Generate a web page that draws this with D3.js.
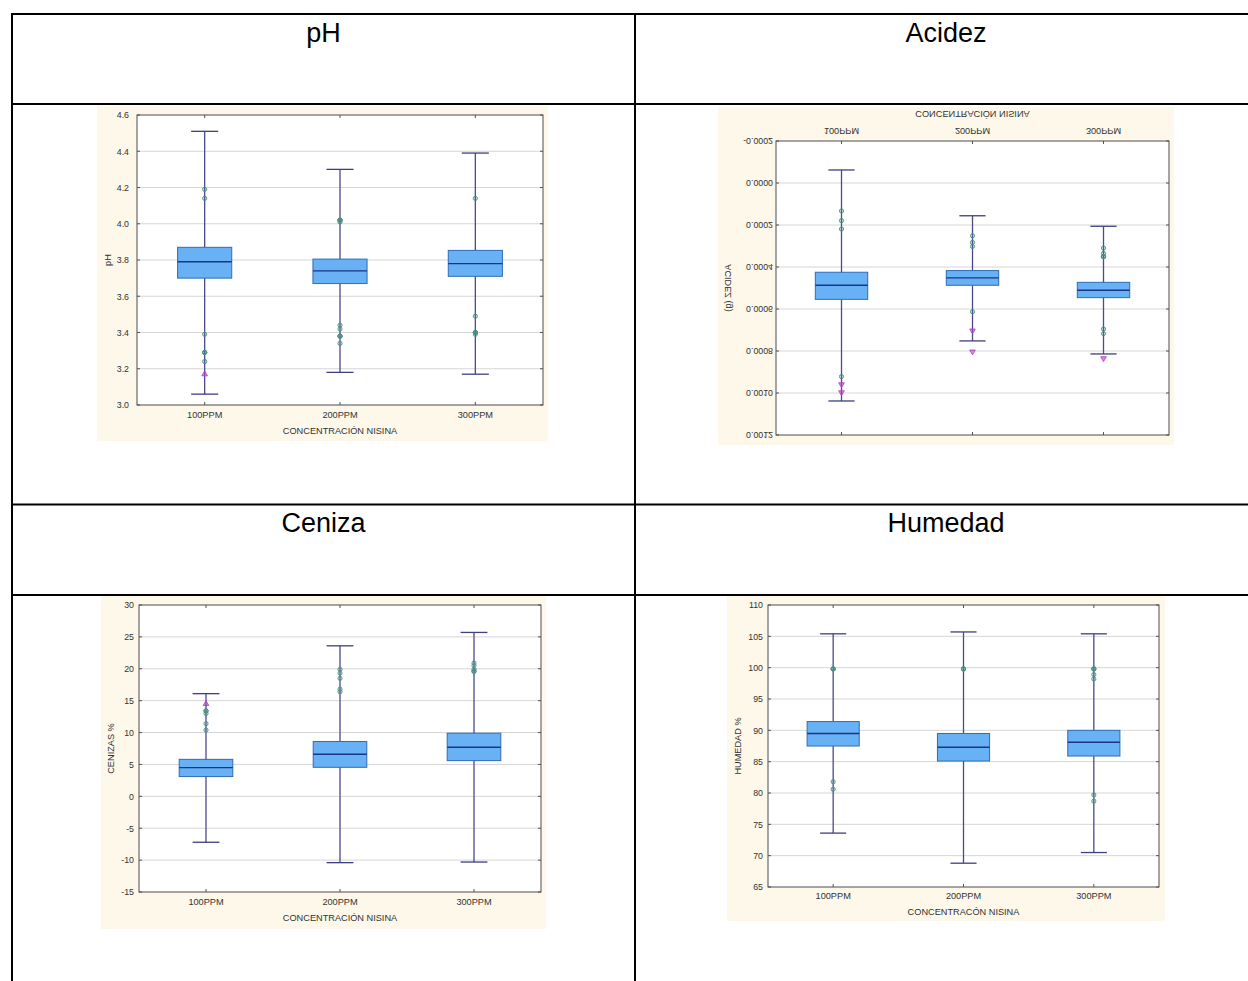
<!DOCTYPE html>
<html><head><meta charset="utf-8">
<script src="https://cdn.jsdelivr.net/npm/d3@7"></script>
<style>body{margin:0;background:#fff}svg{display:block}text{font-family:"Liberation Sans",Arial,sans-serif}</style>
</head><body><svg id="c" width="1248" height="981"></svg>
<script>
// ---------- data ----------
const categories = ["100PPM", "200PPM", "300PPM"];
const panelTitles = ["pH", "Acidez", "Ceniza", "Humedad"];

// pH
const phTicks = [3.0, 3.2, 3.4, 3.6, 3.8, 4.0, 4.2, 4.4, 4.6];
const phLow = [3.06, 3.18, 3.17];
const phQ1 = [3.70, 3.67, 3.71];
const phMedian = [3.79, 3.74, 3.78];
const phQ3 = [3.87, 3.805, 3.853];
const phHigh = [4.51, 4.30, 4.39];
const phOutliers = [[4.19, 4.14, 3.39, 3.29, 3.29, 3.29, 3.24],
                    [4.02, 4.02, 4.02, 4.01, 3.44, 3.42, 3.38, 3.38, 3.38, 3.34],
                    [4.14, 3.49, 3.40, 3.40, 3.40, 3.39]];
const phExtremes = [[3.17], [], []];

// Acidez (chart appears vertically mirrored in the reference)
const acTicks = [-0.0002, 0.0000, 0.0002, 0.0004, 0.0006, 0.0008, 0.0010, 0.0012];
const acLow = [-0.000062, 0.000156, 0.000206];
const acQ1 = [0.000425, 0.000417, 0.000473];
const acMedian = [0.000487, 0.000452, 0.000511];
const acQ3 = [0.000554, 0.000487, 0.000546];
const acHigh = [0.001038, 0.000752, 0.000814];
const acOutliers = [[0.000133, 0.000179, 0.000219, 0.000922],
                    [0.000251, 0.000283, 0.000302, 0.000613],
                    [0.000310, 0.000335, 0.000351, 0.000351, 0.000351, 0.000695, 0.000717]];
const acExtremes = [[0.000959, 0.000997], [0.000703, 0.000803], [0.000835]];

// Ceniza
const ceTicks = [-15, -10, -5, 0, 5, 10, 15, 20, 25, 30];
const ceLow = [-7.2, -10.4, -10.3];
const ceQ1 = [3.1, 4.55, 5.6];
const ceMedian = [4.5, 6.6, 7.7];
const ceQ3 = [5.8, 8.6, 9.9];
const ceHigh = [16.1, 23.6, 25.7];
const ceOutliers = [[13.4, 13.4, 13.0, 11.4, 10.4],
                    [19.9, 19.3, 18.5, 16.8, 16.4],
                    [20.9, 20.5, 19.9, 19.6, 19.6]];
const ceExtremes = [[14.5], [], []];

// Humedad
const huTicks = [65, 70, 75, 80, 85, 90, 95, 100, 105, 110];
const huLow = [73.6, 68.8, 70.5];
const huQ1 = [87.5, 85.1, 85.9];
const huMedian = [89.5, 87.3, 88.1];
const huQ3 = [91.4, 89.5, 90.0];
const huHigh = [105.4, 105.7, 105.4];
const huOutliers = [[99.8, 99.8, 99.8, 81.8, 80.6],
                    [99.8, 99.8, 99.8],
                    [99.8, 99.8, 99.8, 98.9, 98.2, 79.7, 78.7]];
const huExtremes = [[], [], []];

// ---------- drawing ----------
const svg = d3.select("#c");
const hyphen = f => (v => f(v).replace("\u2212", "-"));

// table grid
const tbl = svg.append("g").attr("stroke", "#000").attr("stroke-width", 2);
[14, 104, 504.5, 595].forEach(y => tbl.append("line").attr("x1", 11).attr("x2", 1260).attr("y1", y).attr("y2", y));
[12, 635].forEach(x => tbl.append("line").attr("x1", x).attr("x2", x).attr("y1", 13).attr("y2", 990));

const titlePos = [[323.5, 42], [946, 42], [323.5, 532], [946, 532]];
panelTitles.forEach((t, i) => svg.append("text").attr("x", titlePos[i][0]).attr("y", titlePos[i][1])
  .attr("text-anchor", "middle").attr("font-size", 27).attr("fill", "#000").text(t));

function drawBox(o) {
  const g = svg.append("g");
  if (o.flip) g.attr("transform", `translate(0,${o.bg[1] + o.bg[3]}) scale(1,-1)`);
  g.append("rect").attr("x", o.bg[0]).attr("y", o.bg[1]).attr("width", o.bg[2] - o.bg[0]).attr("height", o.bg[3] - o.bg[1]).attr("fill", "#fdf8ea");
  const [l, t, r, b] = o.plot;
  g.append("rect").attr("x", l).attr("y", t).attr("width", r - l).attr("height", b - t).attr("fill", "#fff");
  const x = d3.scaleBand().domain(categories).range([l, r]).padding(0);
  const y = d3.scaleLinear().domain(o.domain).range([b, t]);
  // grid
  g.append("g").selectAll("line").data(o.ticks.slice(1, -1)).join("line")
    .attr("x1", l).attr("x2", r).attr("y1", d => y(d)).attr("y2", d => y(d))
    .attr("stroke", "#d6d6d6").attr("stroke-width", 1);
  // axes
  const ya = g.append("g").attr("transform", `translate(${l},0)`)
    .call(d3.axisLeft(y).tickValues(o.ticks).tickFormat(hyphen(o.fmt)).tickSize(0).tickPadding(o.pad || 5));
  ya.select(".domain").remove();
  ya.selectAll("text").attr("font-size", 8.8).attr("fill", "#333").attr("font-family", "Liberation Sans, Arial, sans-serif");
  const xa = g.append("g").attr("transform", `translate(0,${b})`)
    .call(d3.axisBottom(x).tickSize(0).tickPadding(o.xPad));
  xa.select(".domain").remove();
  xa.selectAll("text").attr("font-size", 9.2).attr("fill", "#333").attr("font-family", "Liberation Sans, Arial, sans-serif");
  // small inner ticks
  const tk = g.append("g").attr("stroke", "#555").attr("stroke-width", 1);
  o.ticks.forEach(v => {
    tk.append("line").attr("x1", l).attr("x2", l + 3).attr("y1", y(v)).attr("y2", y(v));
    tk.append("line").attr("x1", r - 3).attr("x2", r).attr("y1", y(v)).attr("y2", y(v));
  });
  categories.forEach(c => {
    const cx = x(c) + x.bandwidth() / 2;
    tk.append("line").attr("x1", cx).attr("x2", cx).attr("y1", b).attr("y2", b - 3);
    tk.append("line").attr("x1", cx).attr("x2", cx).attr("y1", t).attr("y2", t + 3);
  });
  g.append("rect").attr("x", l).attr("y", t).attr("width", r - l).attr("height", b - t)
    .attr("fill", "none").attr("stroke", "#4d4d4d").attr("stroke-width", 1);
  // titles
  g.append("text").attr("x", (l + r) / 2).attr("y", o.xTitleY).attr("dy", "0.35em").attr("text-anchor", "middle")
    .attr("font-size", 9.2).attr("fill", "#333").text(o.xTitle);
  g.append("text").attr("transform", `translate(${o.yTitleX},${(t + b) / 2}) rotate(-90)`).attr("dy", "0.35em")
    .attr("text-anchor", "middle").attr("font-size", 9.2).attr("fill", "#333").text(o.yTitle);
  // boxes
  const bw = x.bandwidth() * 0.4, cw = x.bandwidth() * 0.2;
  categories.forEach((c, i) => {
    const cx = x(c) + x.bandwidth() / 2;
    const bg = g.append("g");
    bg.append("line").attr("x1", cx).attr("x2", cx).attr("y1", y(o.low[i])).attr("y2", y(o.high[i]))
      .attr("stroke", "#4a4a8c").attr("stroke-width", 1.3);
    [o.low[i], o.high[i]].forEach(v => bg.append("line").attr("x1", cx - cw / 2).attr("x2", cx + cw / 2)
      .attr("y1", y(v)).attr("y2", y(v)).attr("stroke", "#3e3e80").attr("stroke-width", 1.3));
    bg.append("rect").attr("x", cx - bw / 2).attr("y", y(o.q3[i])).attr("width", bw).attr("height", y(o.q1[i]) - y(o.q3[i]))
      .attr("fill", "#68b1f5").attr("stroke", "#2f6cb6").attr("stroke-width", 1);
    bg.append("line").attr("x1", cx - bw / 2).attr("x2", cx + bw / 2).attr("y1", y(o.med[i])).attr("y2", y(o.med[i]))
      .attr("stroke", "#1b3585").attr("stroke-width", 1.4);
    o.outliers[i].forEach(v => bg.append("circle").attr("cx", cx).attr("cy", y(v)).attr("r", 2.1)
      .attr("fill", "#3f9276").attr("fill-opacity", 0.22).attr("stroke", "#4b8f7f").attr("stroke-width", 0.9));
    o.extremes[i].forEach(v => bg.append("path").attr("transform", `translate(${cx},${y(v)})`)
      .attr("d", d3.symbol(d3.symbolTriangle, 14)()).attr("fill", "#c13cc9").attr("fill-opacity", 0.6)
      .attr("stroke", "#b43cc0").attr("stroke-width", 0.8));
  });
}

drawBox({bg: [97, 106, 548, 441], plot: [137, 115, 543, 405], domain: [3.0, 4.6], ticks: phTicks, fmt: d3.format(".1f"),
  pad: 8, xPad: 6, xTitleY: 431, yTitleX: 108, xTitle: "CONCENTRACIÓN NISINA", yTitle: "pH",
  low: phLow, q1: phQ1, med: phMedian, q3: phQ3, high: phHigh, outliers: phOutliers, extremes: phExtremes});

drawBox({bg: [718, 107, 1174, 445], plot: [776, 117, 1169, 411], domain: [-0.0002, 0.0012], ticks: acTicks, fmt: d3.format(".4f"),
  pad: 3, xPad: 6, xTitleY: 438, yTitleX: 728, xTitle: "CONCENTRACIÓN NISINA", yTitle: "ACIDEZ (g)", flip: true,
  low: acLow, q1: acQ1, med: acMedian, q3: acQ3, high: acHigh, outliers: acOutliers, extremes: acExtremes});

drawBox({bg: [101, 596, 546, 929], plot: [139, 605, 541, 892], domain: [-15, 30], ticks: ceTicks, fmt: d3.format("d"),
  pad: 5, xPad: 6, xTitleY: 918, yTitleX: 111, xTitle: "CONCENTRACIÓN NISINA", yTitle: "CENIZAS %",
  low: ceLow, q1: ceQ1, med: ceMedian, q3: ceQ3, high: ceHigh, outliers: ceOutliers, extremes: ceExtremes});

drawBox({bg: [727, 596, 1165, 921], plot: [768, 605, 1159, 887], domain: [65, 110], ticks: huTicks, fmt: d3.format("d"),
  pad: 5, xPad: 5, xTitleY: 912, yTitleX: 738, xTitle: "CONCENTRACÓN NISINA", yTitle: "HUMEDAD %",
  low: huLow, q1: huQ1, med: huMedian, q3: huQ3, high: huHigh, outliers: huOutliers, extremes: huExtremes});
</script></body></html>
